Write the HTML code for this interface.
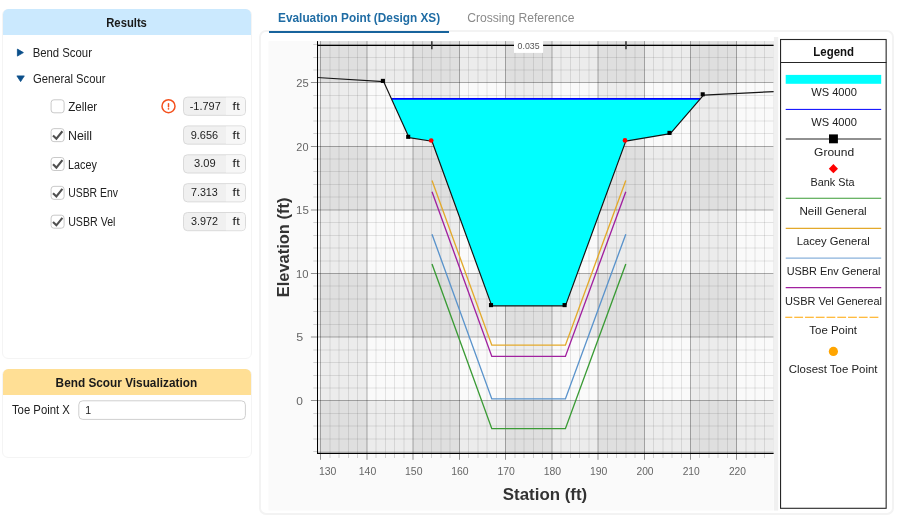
<!DOCTYPE html>
<html><head><meta charset="utf-8"><title>Scour Results</title>
<style>
html,body{margin:0;padding:0;background:#fff}
body{width:900px;height:526px;position:relative;overflow:hidden;font-family:"Liberation Sans", sans-serif;font-size:12px;color:#222}
#root{position:absolute;left:0;top:0;width:900px;height:526px;will-change:transform}
.abs{position:absolute}
.panel{position:absolute;border:1.8px solid #f4f4f4;border-radius:6px;background:#fff;box-sizing:border-box}
.hdr{position:absolute;border-radius:5.5px 5.5px 0 0}
</style></head><body><div id="root">
<div class="panel" style="left:2px;top:8.5px;width:250px;height:350px"></div>
<div class="hdr" style="left:2.5px;top:8.8px;width:248px;height:26.1px;background:#cbe9fe"></div>
<div class="panel" style="left:2px;top:368.6px;width:250px;height:89.6px"></div>
<div class="hdr" style="left:2.5px;top:368.9px;width:248px;height:26.2px;background:#ffdf95"></div>
<div class="abs" style="left:258.8px;top:30.2px;width:635px;height:485px;box-sizing:border-box;border:2.4px solid #f3f3f3;border-radius:7px"></div>
<div class="abs" style="left:269.3px;top:31px;width:180px;height:2.3px;background:#17639c"></div>
<svg width="900" height="526" viewBox="0 0 900 526" style="position:absolute;left:0;top:0" font-family='"Liberation Sans", sans-serif'>
<rect x="268.5" y="41.1" width="505.10" height="469.50" fill="#fafafa"/>
<rect x="773.9" y="37" width="4.3" height="473.60" fill="#f0f0f0"/>
<clipPath id="pc"><rect x="317.0" y="41.1" width="456.60" height="412.90"/></clipPath>
<g clip-path="url(#pc)">
<rect x="320.60" y="41.1" width="46.22" height="412.90" fill="#000" fill-opacity="0.055"/>
<rect x="413.05" y="41.1" width="46.22" height="412.90" fill="#000" fill-opacity="0.055"/>
<rect x="505.50" y="41.1" width="46.22" height="412.90" fill="#000" fill-opacity="0.055"/>
<rect x="597.95" y="41.1" width="46.22" height="412.90" fill="#000" fill-opacity="0.055"/>
<rect x="690.40" y="41.1" width="46.22" height="412.90" fill="#000" fill-opacity="0.055"/>
<rect x="782.85" y="41.1" width="46.22" height="412.90" fill="#000" fill-opacity="0.055"/>
<rect x="317.0" y="400.60" width="456.60" height="63.60" fill="#000" fill-opacity="0.055"/>
<rect x="317.0" y="273.40" width="456.60" height="63.60" fill="#000" fill-opacity="0.055"/>
<rect x="317.0" y="146.20" width="456.60" height="63.60" fill="#000" fill-opacity="0.055"/>
<rect x="317.0" y="19.00" width="456.60" height="63.60" fill="#000" fill-opacity="0.055"/>
<path d="M311.5 41.1V454.0M330.0 41.1V454.0M339.0 41.1V454.0M348.5 41.1V454.0M357.5 41.1V454.0M376.0 41.1V454.0M385.5 41.1V454.0M394.5 41.1V454.0M404.0 41.1V454.0M422.5 41.1V454.0M431.5 41.1V454.0M441.0 41.1V454.0M450.0 41.1V454.0M468.5 41.1V454.0M478.0 41.1V454.0M487.0 41.1V454.0M496.5 41.1V454.0M515.0 41.1V454.0M524.0 41.1V454.0M533.5 41.1V454.0M542.5 41.1V454.0M561.0 41.1V454.0M570.5 41.1V454.0M579.5 41.1V454.0M589.0 41.1V454.0M607.5 41.1V454.0M616.5 41.1V454.0M626.0 41.1V454.0M635.0 41.1V454.0M653.5 41.1V454.0M663.0 41.1V454.0M672.0 41.1V454.0M681.5 41.1V454.0M699.5 41.1V454.0M709.0 41.1V454.0M718.0 41.1V454.0M727.5 41.1V454.0M746.0 41.1V454.0M755.0 41.1V454.0M764.5 41.1V454.0M773.5 41.1V454.0M317.0 451.5H773.6M317.0 439.0H773.6M317.0 426.0H773.6M317.0 413.5H773.6M317.0 388.0H773.6M317.0 375.5H773.6M317.0 362.5H773.6M317.0 350.0H773.6M317.0 324.5H773.6M317.0 311.5H773.6M317.0 299.0H773.6M317.0 286.0H773.6M317.0 261.0H773.6M317.0 248.0H773.6M317.0 235.5H773.6M317.0 222.5H773.6M317.0 197.0H773.6M317.0 184.5H773.6M317.0 171.5H773.6M317.0 159.0H773.6M317.0 133.5H773.6M317.0 121.0H773.6M317.0 108.0H773.6M317.0 95.5H773.6M317.0 70.0H773.6M317.0 57.5H773.6M317.0 44.5H773.6M317.0 32.0H773.6" stroke="#000" stroke-opacity="0.095" stroke-width="1" fill="none"/>
<path d="M320.5 41.1V454.0M367.0 41.1V454.0M413.0 41.1V454.0M459.5 41.1V454.0M505.5 41.1V454.0M552.0 41.1V454.0M598.0 41.1V454.0M644.5 41.1V454.0M690.5 41.1V454.0M736.5 41.1V454.0M783.0 41.1V454.0M317.0 464.5H773.6M317.0 400.5H773.6M317.0 337.0H773.6M317.0 273.5H773.6M317.0 210.0H773.6M317.0 146.5H773.6M317.0 82.5H773.6M317.0 19.0H773.6" stroke="#000" stroke-opacity="0.31" stroke-width="1" fill="none"/>
<polygon points="391.48,98.85 409.00,137.55 432.00,141.25 491.80,305.85 565.40,305.85 625.80,141.15 670.30,133.65 700.23,98.85" fill="#00ffff"/>
<line x1="391.48" y1="98.85" x2="700.23" y2="98.85" stroke="#0000ff" stroke-width="1.7"/>
<polyline points="432.00,264.07 491.80,428.67 565.40,428.67 625.80,263.97" fill="none" stroke="#3a9b35" stroke-width="1.35"/>
<polyline points="432.00,180.55 491.80,345.15 565.40,345.15 625.80,180.45" fill="none" stroke="#e3a92b" stroke-width="1.35"/>
<polyline points="432.00,234.27 491.80,398.87 565.40,398.87 625.80,234.17" fill="none" stroke="#5a93cb" stroke-width="1.35"/>
<polyline points="432.00,191.77 491.80,356.37 565.40,356.37 625.80,191.67" fill="none" stroke="#a1219f" stroke-width="1.35"/>
<polyline points="316.00,77.45 383.70,81.65 409.00,137.55 432.00,141.25 491.80,305.85 565.40,305.85 625.80,141.15 670.30,133.65 703.50,95.05 775.00,91.55" fill="none" stroke="#151515" stroke-width="1.2" stroke-linejoin="round"/>
<rect x="380.85" y="78.85" width="4.1" height="4.1" fill="#000"/>
<rect x="406.15" y="134.75" width="4.1" height="4.1" fill="#000"/>
<rect x="488.95" y="303.05" width="4.1" height="4.1" fill="#000"/>
<rect x="562.55" y="303.05" width="4.1" height="4.1" fill="#000"/>
<rect x="667.45" y="130.85" width="4.1" height="4.1" fill="#000"/>
<rect x="700.65" y="92.25" width="4.1" height="4.1" fill="#000"/>
<circle cx="431.20" cy="140.50" r="2.35" fill="#f00"/>
<circle cx="625.00" cy="140.40" r="2.35" fill="#f00"/>
</g>
<path d="M317.5 41.1V454" stroke="#000" stroke-width="1" fill="none"/>
<path d="M317 453.4H773.6" stroke="#000" stroke-width="1.2" fill="none"/>
<path d="M317 45.4H773.6" stroke="#000" stroke-width="1.15" fill="none"/>
<path d="M431.84 41.3V49.3" stroke="#333" stroke-width="1.5" fill="none"/>
<path d="M625.98 41.3V49.3" stroke="#333" stroke-width="1.5" fill="none"/>
<rect x="514" y="38" width="29.1" height="14.9" fill="#fff"/>
<path d="M330.0 454V458M339.0 454V458M348.5 454V458M357.5 454V458M376.0 454V458M385.5 454V458M394.5 454V458M404.0 454V458M422.5 454V458M431.5 454V458M441.0 454V458M450.0 454V458M468.5 454V458M478.0 454V458M487.0 454V458M496.5 454V458M515.0 454V458M524.0 454V458M533.5 454V458M542.5 454V458M561.0 454V458M570.5 454V458M579.5 454V458M589.0 454V458M607.5 454V458M616.5 454V458M626.0 454V458M635.0 454V458M653.5 454V458M663.0 454V458M672.0 454V458M681.5 454V458M699.5 454V458M709.0 454V458M718.0 454V458M727.5 454V458M746.0 454V458M755.0 454V458M764.5 454V458M317 451.5H313.3M317 439.0H313.3M317 426.0H313.3M317 413.5H313.3M317 388.0H313.3M317 375.5H313.3M317 362.5H313.3M317 350.0H313.3M317 324.5H313.3M317 311.5H313.3M317 299.0H313.3M317 286.0H313.3M317 261.0H313.3M317 248.0H313.3M317 235.5H313.3M317 222.5H313.3M317 197.0H313.3M317 184.5H313.3M317 171.5H313.3M317 159.0H313.3M317 133.5H313.3M317 121.0H313.3M317 108.0H313.3M317 95.5H313.3M317 70.0H313.3M317 57.5H313.3M317 44.5H313.3" stroke="#000" stroke-opacity="0.17" stroke-width="1" fill="none"/>
<path d="M320.5 454V459.8M367.0 454V459.8M413.0 454V459.8M459.5 454V459.8M505.5 454V459.8M552.0 454V459.8M598.0 454V459.8M644.5 454V459.8M690.5 454V459.8M736.5 454V459.8M317 400.5H310.9M317 337.0H310.9M317 273.5H310.9M317 210.0H310.9M317 146.5H310.9M317 82.5H310.9" stroke="#000" stroke-opacity="0.42" stroke-width="1" fill="none"/>
<rect x="780.55" y="39.5" width="105.6" height="468.8" fill="#fff" stroke="#262626" stroke-width="1.1"/>
<path d="M780.5 62.5H886.5" stroke="#262626" stroke-width="1"/>
<rect x="785.7" y="74.9" width="95.5" height="8.9" fill="#00ffff"/>
<path d="M785.7 109.4H881.2" stroke="#0000ff" stroke-width="1"/>
<path d="M785.7 139H881.2" stroke="#222" stroke-width="1.1"/>
<rect x="829" y="134.4" width="8.9" height="8.9" fill="#000"/>
<path d="M833.4 164.1L838 168.7L833.4 173.3L828.8 168.7Z" fill="#f00"/>
<path d="M785.7 198.2H881.2" stroke="#3a9b35" stroke-width="1.1"/>
<path d="M785.7 228.4H881.2" stroke="#e3a92b" stroke-width="1.1"/>
<path d="M785.7 258.1H881.2" stroke="#8ab2db" stroke-width="1.4"/>
<path d="M785.7 287.7H881.2" stroke="#a1219f" stroke-width="1.2"/>
<path d="M785.3 317.25H878.8" stroke="#ffa500" stroke-width="1.15" stroke-dasharray="8.8 1.96" stroke-dashoffset="1.8"/>
<circle cx="833.4" cy="351.4" r="4.6" fill="#ffa500"/>
<path d="M17.4 49.1L23.4 52.6L17.4 56.1Z" fill="#0b4f8a" stroke="#0b4f8a" stroke-width="0.8" stroke-linejoin="round"/>
<path d="M16.9 75.9H24.3L20.6 81.6Z" fill="#0b4f8a" stroke="#0b4f8a" stroke-width="0.8" stroke-linejoin="round"/>
<rect x="51.1" y="99.80" width="13" height="13" rx="2.8" fill="#fff" stroke="#c9c9c9" stroke-width="1"/>
<rect x="183.5" y="97.10" width="62" height="18.2" rx="4" fill="#f0f0f0" stroke="#dadada"/>
<path d="M226 97.60H241.5a3.5 3.5 0 0 1 3.5 3.5V111.30a3.5 3.5 0 0 1 -3.5 3.5H226Z" fill="#f7f7f7"/>
<rect x="51.1" y="128.65" width="13" height="13" rx="2.8" fill="#fff" stroke="#c9c9c9" stroke-width="1"/>
<path d="M53.00 135.45L56.40 138.75L62.40 131.25" fill="none" stroke="#505050" stroke-width="2.1"/>
<rect x="183.5" y="125.95" width="62" height="18.2" rx="4" fill="#f0f0f0" stroke="#dadada"/>
<path d="M226 126.45H241.5a3.5 3.5 0 0 1 3.5 3.5V140.15a3.5 3.5 0 0 1 -3.5 3.5H226Z" fill="#f7f7f7"/>
<rect x="51.1" y="157.50" width="13" height="13" rx="2.8" fill="#fff" stroke="#c9c9c9" stroke-width="1"/>
<path d="M53.00 164.30L56.40 167.60L62.40 160.10" fill="none" stroke="#505050" stroke-width="2.1"/>
<rect x="183.5" y="154.80" width="62" height="18.2" rx="4" fill="#f0f0f0" stroke="#dadada"/>
<path d="M226 155.30H241.5a3.5 3.5 0 0 1 3.5 3.5V169.00a3.5 3.5 0 0 1 -3.5 3.5H226Z" fill="#f7f7f7"/>
<rect x="51.1" y="186.35" width="13" height="13" rx="2.8" fill="#fff" stroke="#c9c9c9" stroke-width="1"/>
<path d="M53.00 193.15L56.40 196.45L62.40 188.95" fill="none" stroke="#505050" stroke-width="2.1"/>
<rect x="183.5" y="183.65" width="62" height="18.2" rx="4" fill="#f0f0f0" stroke="#dadada"/>
<path d="M226 184.15H241.5a3.5 3.5 0 0 1 3.5 3.5V197.85a3.5 3.5 0 0 1 -3.5 3.5H226Z" fill="#f7f7f7"/>
<rect x="51.1" y="215.20" width="13" height="13" rx="2.8" fill="#fff" stroke="#c9c9c9" stroke-width="1"/>
<path d="M53.00 222.00L56.40 225.30L62.40 217.80" fill="none" stroke="#505050" stroke-width="2.1"/>
<rect x="183.5" y="212.50" width="62" height="18.2" rx="4" fill="#f0f0f0" stroke="#dadada"/>
<path d="M226 213.00H241.5a3.5 3.5 0 0 1 3.5 3.5V226.70a3.5 3.5 0 0 1 -3.5 3.5H226Z" fill="#f7f7f7"/>
<circle cx="168.5" cy="106.2" r="6.5" fill="#fff" stroke="#f4511e" stroke-width="1.5"/>
<path d="M168.5 103.80V106.70" stroke="#f4511e" stroke-width="1.5" stroke-linecap="round"/><circle cx="168.5" cy="108.80" r="0.85" fill="#f4511e"/>
<rect x="78.8" y="400.8" width="166.6" height="18.6" rx="4" fill="#fff" stroke="#cfcfcf"/>
<text x="106.25" y="27.00" font-size="12" fill="#1a1a1a" font-weight="bold" textLength="40.64" lengthAdjust="spacingAndGlyphs">Results</text>
<text x="32.65" y="57.00" font-size="12" fill="#222" textLength="59.32" lengthAdjust="spacingAndGlyphs">Bend Scour</text>
<text x="33.00" y="83.00" font-size="12" fill="#222" textLength="72.48" lengthAdjust="spacingAndGlyphs">General Scour</text>
<text x="68.22" y="111.00" font-size="12" fill="#222" textLength="29.02" lengthAdjust="spacingAndGlyphs">Zeller</text>
<text x="67.97" y="140.00" font-size="12" fill="#222" textLength="24.11" lengthAdjust="spacingAndGlyphs">Neill</text>
<text x="68.10" y="169.00" font-size="12" fill="#222" textLength="28.71" lengthAdjust="spacingAndGlyphs">Lacey</text>
<text x="68.20" y="197.00" font-size="12" fill="#222" textLength="49.75" lengthAdjust="spacingAndGlyphs">USBR Env</text>
<text x="68.18" y="226.00" font-size="12" fill="#222" textLength="47.30" lengthAdjust="spacingAndGlyphs">USBR Vel</text>
<text x="189.72" y="110.00" font-size="10.2" fill="#222" textLength="31.02" lengthAdjust="spacingAndGlyphs">-1.797</text>
<text x="232.57" y="110.00" font-size="11.5" fill="#222" textLength="7.17" lengthAdjust="spacingAndGlyphs">ft</text>
<text x="190.72" y="139.00" font-size="10.2" fill="#222" textLength="27.44" lengthAdjust="spacingAndGlyphs">9.656</text>
<text x="232.57" y="139.00" font-size="11.5" fill="#222" textLength="7.17" lengthAdjust="spacingAndGlyphs">ft</text>
<text x="194.05" y="167.00" font-size="10.2" fill="#222" textLength="21.63" lengthAdjust="spacingAndGlyphs">3.09</text>
<text x="232.57" y="167.00" font-size="11.5" fill="#222" textLength="7.17" lengthAdjust="spacingAndGlyphs">ft</text>
<text x="190.93" y="196.00" font-size="10.2" fill="#222" textLength="26.89" lengthAdjust="spacingAndGlyphs">7.313</text>
<text x="232.57" y="196.00" font-size="11.5" fill="#222" textLength="7.17" lengthAdjust="spacingAndGlyphs">ft</text>
<text x="190.97" y="225.00" font-size="10.2" fill="#222" textLength="27.05" lengthAdjust="spacingAndGlyphs">3.972</text>
<text x="232.57" y="225.00" font-size="11.5" fill="#222" textLength="7.17" lengthAdjust="spacingAndGlyphs">ft</text>
<text x="55.62" y="387.00" font-size="12" fill="#1a1a1a" font-weight="bold" textLength="141.49" lengthAdjust="spacingAndGlyphs">Bend Scour Visualization</text>
<text x="11.93" y="414.00" font-size="12" fill="#222" textLength="57.94" lengthAdjust="spacingAndGlyphs">Toe Point X</text>
<text x="85.13" y="414.00" font-size="11.5" fill="#222" textLength="5.90" lengthAdjust="spacingAndGlyphs">1</text>
<text x="278.10" y="22.00" font-size="12.5" fill="#1f6ca4" font-weight="bold" textLength="162.01" lengthAdjust="spacingAndGlyphs">Evaluation Point (Design XS)</text>
<text x="467.14" y="22.00" font-size="12.5" fill="#8a8a8a" textLength="107.28" lengthAdjust="spacingAndGlyphs">Crossing Reference</text>
<text x="318.96" y="475.00" font-size="10.5" fill="#666" textLength="17.45" lengthAdjust="spacingAndGlyphs">130</text>
<text x="358.78" y="475.00" font-size="10.5" fill="#666" textLength="17.45" lengthAdjust="spacingAndGlyphs">140</text>
<text x="405.01" y="475.00" font-size="10.5" fill="#666" textLength="17.45" lengthAdjust="spacingAndGlyphs">150</text>
<text x="451.23" y="475.00" font-size="10.5" fill="#666" textLength="17.45" lengthAdjust="spacingAndGlyphs">160</text>
<text x="497.46" y="475.00" font-size="10.5" fill="#666" textLength="17.45" lengthAdjust="spacingAndGlyphs">170</text>
<text x="543.68" y="475.00" font-size="10.5" fill="#666" textLength="17.45" lengthAdjust="spacingAndGlyphs">180</text>
<text x="589.91" y="475.00" font-size="10.5" fill="#666" textLength="17.45" lengthAdjust="spacingAndGlyphs">190</text>
<text x="636.43" y="475.00" font-size="10.5" fill="#666" textLength="17.14" lengthAdjust="spacingAndGlyphs">200</text>
<text x="682.66" y="475.00" font-size="10.5" fill="#666" textLength="17.14" lengthAdjust="spacingAndGlyphs">210</text>
<text x="728.88" y="475.00" font-size="10.5" fill="#666" textLength="17.14" lengthAdjust="spacingAndGlyphs">220</text>
<text x="296.38" y="405.00" font-size="10.5" fill="#666" textLength="6.66" lengthAdjust="spacingAndGlyphs">0</text>
<text x="296.15" y="341.00" font-size="10.5" fill="#666" textLength="6.93" lengthAdjust="spacingAndGlyphs">5</text>
<text x="295.99" y="278.00" font-size="10.5" fill="#666" textLength="12.51" lengthAdjust="spacingAndGlyphs">10</text>
<text x="295.97" y="214.00" font-size="10.5" fill="#666" textLength="12.84" lengthAdjust="spacingAndGlyphs">15</text>
<text x="296.32" y="151.00" font-size="10.5" fill="#666" textLength="12.16" lengthAdjust="spacingAndGlyphs">20</text>
<text x="296.31" y="87.00" font-size="10.5" fill="#666" textLength="12.48" lengthAdjust="spacingAndGlyphs">25</text>
<text x="502.81" y="500.40" font-size="16" fill="#333" font-weight="bold" textLength="84.45" lengthAdjust="spacingAndGlyphs">Station (ft)</text>
<text transform="translate(288.70 297.33) rotate(-90)" font-size="16" fill="#333" font-weight="bold" textLength="99.74" lengthAdjust="spacingAndGlyphs">Elevation (ft)</text>
<text x="517.59" y="49.40" font-size="9" fill="#555" textLength="21.98" lengthAdjust="spacingAndGlyphs">0.035</text>
<text x="813.34" y="55.70" font-size="12" fill="#111" font-weight="bold" textLength="40.64" lengthAdjust="spacingAndGlyphs">Legend</text>
<text x="811.19" y="96.00" font-size="11.5" fill="#222" textLength="45.72" lengthAdjust="spacingAndGlyphs">WS 4000</text>
<text x="811.19" y="125.60" font-size="11.5" fill="#222" textLength="45.72" lengthAdjust="spacingAndGlyphs">WS 4000</text>
<text x="814.05" y="155.60" font-size="11.5" fill="#222" textLength="40.03" lengthAdjust="spacingAndGlyphs">Ground</text>
<text x="810.52" y="185.60" font-size="11.5" fill="#222" textLength="43.96" lengthAdjust="spacingAndGlyphs">Bank Sta</text>
<text x="799.45" y="214.70" font-size="11.5" fill="#222" textLength="67.28" lengthAdjust="spacingAndGlyphs">Neill General</text>
<text x="796.69" y="244.80" font-size="11.5" fill="#222" textLength="72.96" lengthAdjust="spacingAndGlyphs">Lacey General</text>
<text x="786.66" y="274.60" font-size="11.5" fill="#222" textLength="93.80" lengthAdjust="spacingAndGlyphs">USBR Env General</text>
<text x="784.95" y="304.50" font-size="11.5" fill="#222" textLength="97.09" lengthAdjust="spacingAndGlyphs">USBR Vel Genereal</text>
<text x="809.34" y="333.70" font-size="11.5" fill="#222" textLength="47.68" lengthAdjust="spacingAndGlyphs">Toe Point</text>
<text x="788.78" y="372.80" font-size="11.5" fill="#222" textLength="88.76" lengthAdjust="spacingAndGlyphs">Closest Toe Point</text>
</svg>
</div></body></html>
